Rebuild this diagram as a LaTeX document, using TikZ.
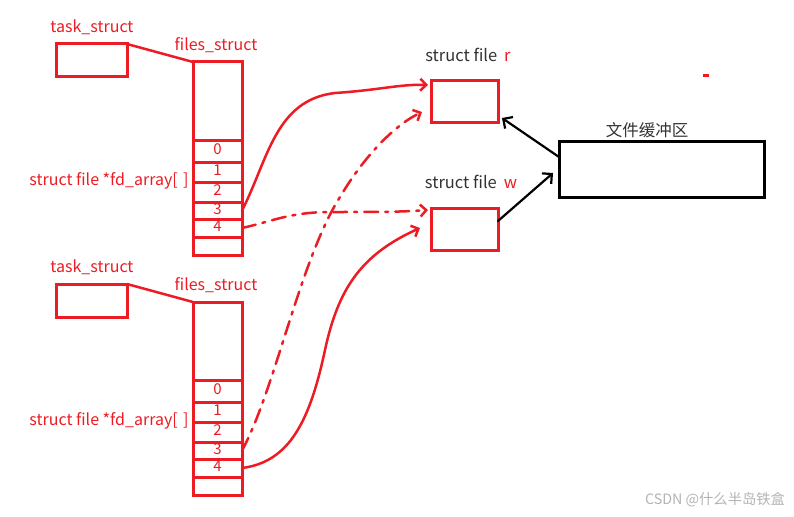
\documentclass[tikz,border=0pt]{standalone}
\usepackage{fontspec}
\setmainfont{Noto Sans CJK SC}
\usetikzlibrary{arrows.meta}
\definecolor{pred}{HTML}{ED1C24}
\definecolor{tgray}{HTML}{333333}
\definecolor{wgray}{HTML}{B4B4B4}
\tikzset{
 box/.style={draw=pred, line width=3pt, inner sep=0pt, outer sep=0pt},
 cell/.style={draw=pred, line width=3pt, minimum width=49pt, inner sep=0pt, outer sep=0pt,
   font=\fontsize{15}{15}\selectfont, text=pred, anchor=north},
 lbl/.style={text=pred, font=\fontsize{16}{18}\selectfont, inner sep=0pt},
 glbl/.style={text=tgray, font=\fontsize{16.5}{18}\selectfont, inner sep=0pt},
 link/.style={draw=pred, line width=2.5pt, line cap=round, -{Straight Barb[length=6pt,width=12pt,line width=2.5pt]}},
 dashdot/.style={dash pattern=on 14pt off 7pt on 3pt off 7pt},
 blk/.style={draw=black, line width=2.2pt, line cap=round, -{Straight Barb[length=7pt,width=14pt,line width=2.2pt]}}
}
\newcommand\rz[1]{\raisebox{3pt}{#1}}
\newcommand\procblock[2]{%
 \node[lbl] (#1task) at (92,{27+#2}) {task\_struct};
 \node[box, minimum width=71pt, minimum height=33pt, anchor=north west] (#1tbox) at (56,{44+#2}) {};
 \node[lbl] (#1flab) at (216,{45+#2}) {files\_struct};
 \node[cell, minimum height=78pt] (#1top) at (217.5,{62+#2}) {};
 \node[cell, minimum height=22pt] (#1c0) at (#1top.south) {\rz{0}};
 \node[cell, minimum height=20pt] (#1c1) at (#1c0.south) {\rz{1}};
 \node[cell, minimum height=20pt] (#1c2) at (#1c1.south) {\rz{2}};
 \node[cell, minimum height=17pt] (#1c3) at (#1c2.south) {\rz{3}};
 \node[cell, minimum height=18pt] (#1c4) at (#1c3.south) {\rz{4}};
 \node[cell, minimum height=18pt] (#1c5) at (#1c4.south) {};
 \node[lbl] (#1fd) at (109,{181+#2}) {struct file *fd\_array[\,\,]};
 \draw[pred, line width=2.5pt] (#1tbox.north east) -- (#1top.north west);
}
\begin{document}
\begin{tikzpicture}[x=1pt,y=-1pt]
\useasboundingbox[fill=white] (0,0) rectangle (794,516);
\procblock{A}{0}
\procblock{B}{240}
% struct files
\node[glbl] (rlab) at (468,55) {struct file\hspace{7pt}\textcolor{pred}{r}};
\node[box, minimum width=67pt, minimum height=41pt, anchor=north west] (r) at (431,81) {};
\node[glbl] (wlab) at (471,182) {struct file\hspace{7pt}\textcolor{pred}{w}};
\node[box, minimum width=67pt, minimum height=42pt, anchor=north west] (w) at (431,208) {};
% buffer
\node[glbl] (buflab) at (647,130) {文件缓冲区};
\node[draw=black, line width=3pt, minimum width=205pt, minimum height=56pt, inner sep=0pt, outer sep=0pt, anchor=north west] (buf) at (559,141) {};
\fill[pred] (703,74.5) rectangle (709,77.5);
% red links
\draw[link] (Ac3.east) .. controls (268,160) and (275,100) .. (335,93)
   .. controls (380,90) and (400,84) .. ([shift={(-3,4)}]r.north west);
\draw[link, dashdot] (Ac4.east) .. controls (270,222) and (290,212) .. (330,212)
   .. controls (380,212) and (400,212) .. ([shift={(-3,2)}]w.north west);
\draw[link, dashdot] (Bc3.east) .. controls (275,390) and (300,260) .. (340,197)
   .. controls (365,155) and (395,125) .. ([shift={(-9,-10)}]r.south west);
\draw[link] (Bc4.east) .. controls (290,462) and (310,420) .. (325,350)
   .. controls (338,290) and (360,255) .. ([shift={(-11,-1)}]w.west);
% black links
\draw[blk] ([shift={(0,16)}]buf.north west) -- ([shift={(4,-4)}]r.south east);
\draw[blk] ([shift={(0,-8)}]w.east) -- ([shift={(-6,32)}]buf.north west);
% watermark
\node[text=wgray, font=\fontsize{14.3}{16}\selectfont, inner sep=0pt] (wm) at (715,500) {CSDN @什么半岛铁盒};
\end{tikzpicture}
\end{document}
